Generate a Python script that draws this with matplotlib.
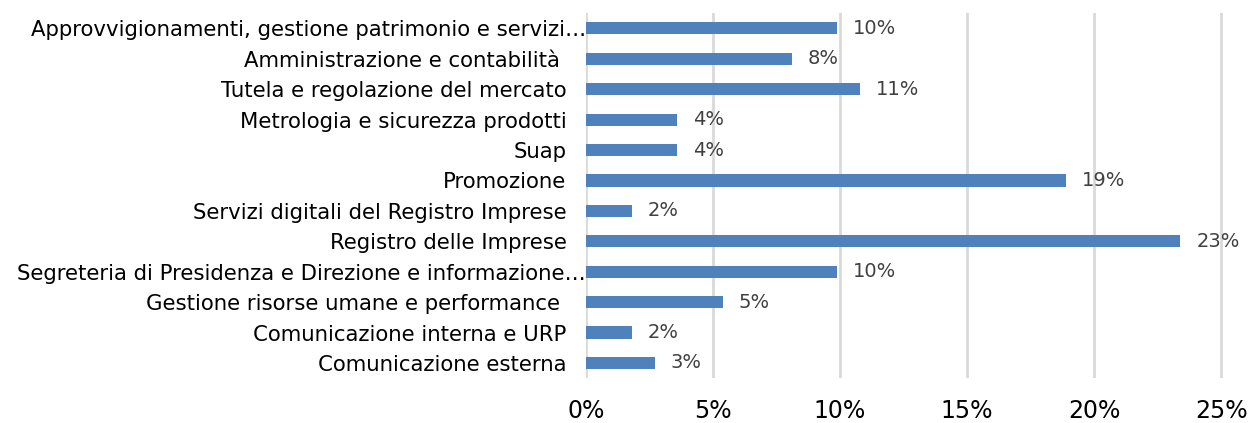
import matplotlib
matplotlib.use("Agg")
from matplotlib import pyplot as plt
import matplotlib.transforms as mtransforms
import numpy as np

categories = [
    "Approvvigionamenti, gestione patrimonio e servizi…",
    "Amministrazione e contabilità ",
    "Tutela e regolazione del mercato",
    "Metrologia e sicurezza prodotti",
    "Suap",
    "Promozione",
    "Servizi digitali del Registro Imprese",
    "Registro delle Imprese",
    "Segreteria di Presidenza e Direzione e informazione…",
    "Gestione risorse umane e performance ",
    "Comunicazione interna e URP",
    "Comunicazione esterna",
]
values = [9.9, 8.1, 10.8, 3.6, 3.6, 18.9, 1.8, 23.4, 9.9, 5.4, 1.8, 2.7]
xticks = [0, 5, 10, 15, 20, 25]

fig = plt.figure(figsize=(12.52, 4.23), dpi=100)
ax = fig.add_axes([586 / 1252, 0.106, 646 / 1252, 0.863])

y = np.arange(len(categories))[::-1]
ax.barh(y, values, height=0.4, color="#4f81bd", zorder=3)

# value labels to the right of each bar
for yi, v in zip(y, values):
    ax.text(v + 0.62, yi, f"{round(v):.0f}%", va="center", ha="left",
            fontsize=14, color="#404040")

ax.set_xlim(0, 25.43)
ax.set_ylim(-0.5, len(categories) - 0.5)
ax.set_yticks(y)
ax.set_yticklabels(categories, fontsize=15.3, color="#000000")
ax.set_xticks(xticks)
ax.set_xticklabels([f"{t}%" for t in xticks], fontsize=17)

ax.grid(axis="x", color="#d9d9d9", linewidth=2, zorder=0)
for s in ax.spines.values():
    s.set_visible(False)
ax.tick_params(axis="x", length=0, pad=15)
ax.tick_params(axis="y", length=0, pad=14)

# truncated labels sit a little closer to the axis
shift = mtransforms.ScaledTranslation(14 / 72, 0, fig.dpi_scale_trans)
for lbl in ax.get_yticklabels():
    if lbl.get_text().endswith("…"):
        lbl.set_transform(lbl.get_transform() + shift)

fig.savefig("out.png", dpi=100)
